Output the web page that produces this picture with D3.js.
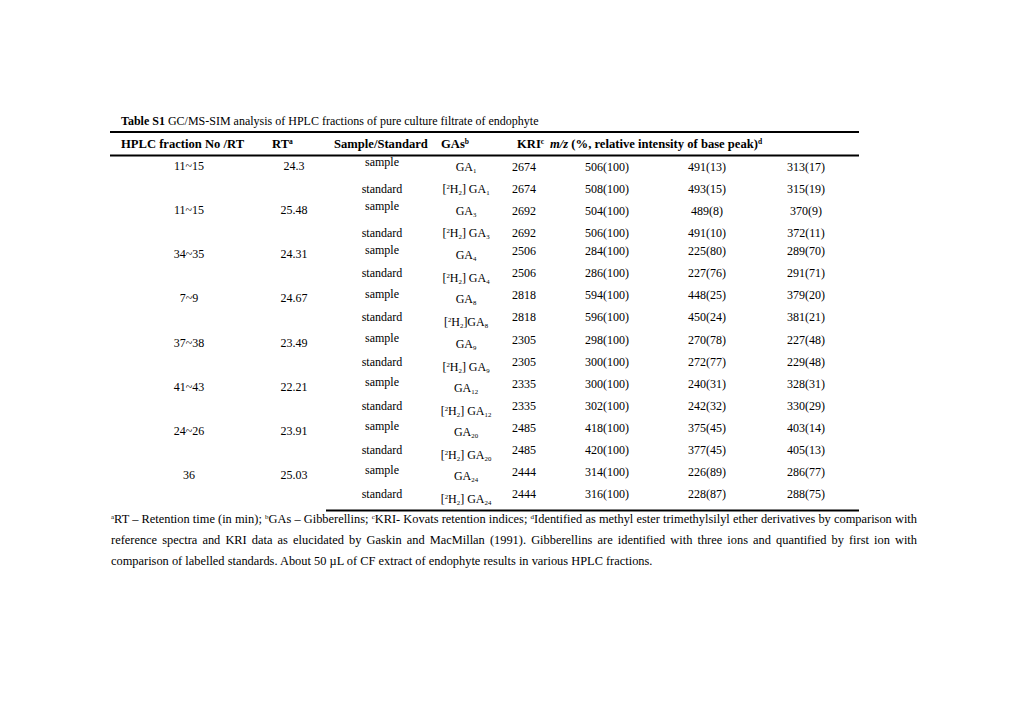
<!DOCTYPE html>
<html><head><meta charset="utf-8">
<script src="https://cdn.jsdelivr.net/npm/d3@7"></script>
<style>
html,body{margin:0;padding:0;background:#fff;}
svg text{font-family:"Liberation Serif","Times New Roman",serif;fill:#000;}
</style></head>
<body><svg id="c" width="1020" height="720"></svg>
<script>
// ---- data ----
const fractions = ["11~15","11~15","34~35","7~9","37~38","41~43","24~26","36"];
const rts = ["24.3","25.48","24.31","24.67","23.49","22.21","23.91","25.03"];
const gaNums = ["1","3","4","8","9","12","20","24"];
const stdSpace = [true,true,true,false,true,true,true,true];
const kri = ["2674","2692","2506","2818","2305","2335","2485","2444"];
const sampleIons = [
  ["506(100)","491(13)","313(17)"],
  ["504(100)","489(8)","370(9)"],
  ["284(100)","225(80)","289(70)"],
  ["594(100)","448(25)","379(20)"],
  ["298(100)","270(78)","227(48)"],
  ["300(100)","240(31)","328(31)"],
  ["418(100)","375(45)","403(14)"],
  ["314(100)","226(89)","286(77)"]
];
const standardIons = [
  ["508(100)","493(15)","315(19)"],
  ["506(100)","491(10)","372(11)"],
  ["286(100)","227(76)","291(71)"],
  ["596(100)","450(24)","381(21)"],
  ["300(100)","272(77)","229(48)"],
  ["302(100)","242(32)","330(29)"],
  ["420(100)","377(45)","405(13)"],
  ["316(100)","228(87)","288(75)"]
];
const titleBold = "Table S1";
const titleRest = " GC/MS-SIM analysis of HPLC fractions of pure culture filtrate of endophyte";
const footLines = [
  [["a",true],["RT – Retention time (in min); ",false],["b",true],["GAs – Gibberellins; ",false],["c",true],["KRI- Kovats retention indices; ",false],["d",true],["Identified as methyl ester trimethylsilyl ether derivatives by comparison with",false]],
  [["reference spectra and KRI data as elucidated by Gaskin and MacMillan (1991). Gibberellins are identified with three ions and quantified by first ion with",false]],
  [["comparison of labelled standards. About 50 µL of CF extract of endophyte results in various HPLC fractions.",false]]
];

// ---- layout ----
const svg = d3.select("#c");
const FS = 12, HFS = 12.6, FFS = 12.4, SUB = 6.8;
const rowIdx = d3.range(16);
const y = d3.scalePoint().domain(rowIdx).range([163, 494]);
const colX = d3.scaleOrdinal()
  .domain(["frac","rt","ss","ga","kri","i1","i2","i3"])
  .range([189, 294, 382, 466, 524, 607, 707, 806]);

// title
const t = svg.append("text").attr("x",121).attr("y",125).attr("font-size",FS);
t.append("tspan").attr("font-weight","bold").text(titleBold);
t.append("tspan").text(titleRest);

// rules
const rules = [[110,859,132,2],[110,859,155.5,2],[326,859,510.5,2]];
svg.selectAll("line.rule").data(rules).join("line").attr("class","rule")
  .attr("x1",d=>d[0]).attr("x2",d=>d[1]).attr("y1",d=>d[2]).attr("y2",d=>d[2])
  .attr("stroke","#000").attr("stroke-width",d=>d[3]);

// header
const hy = 148;
function hdr(x, txt, sup, anchor){
  const e = svg.append("text").attr("x",x).attr("y",hy).attr("font-size",HFS)
    .attr("font-weight","bold").attr("text-anchor",anchor||"start");
  e.append("tspan").text(txt);
  if(sup) e.append("tspan").attr("font-size",7.5).attr("dy",-4.5).text(sup);
  return e;
}
hdr(121,"HPLC fraction No /RT");
hdr(272,"RT","a");
hdr(334,"Sample/Standard");
hdr(441,"GAs","b");
hdr(517,"KRI","c");
{
  const e = svg.append("text").attr("x",550).attr("y",hy).attr("font-size",HFS).attr("font-weight","bold");
  e.append("tspan").attr("font-style","italic").text("m/z");
  e.append("tspan").text(" (%, relative intensity of base peak)");
  e.append("tspan").attr("font-size",7.5).attr("dy",-4.5).text("d");
}

// body
const B = 4; // baseline offset from text centre
const groups = d3.range(fractions.length);
groups.forEach(g => {
  const ys = y(2*g), yt = y(2*g+1);
  const early = g < 2;
  const ysd = early ? yt + 4 : yt;
  svg.append("text").attr("x",colX("frac")).attr("y",ys+3+B).attr("font-size",FS)
    .attr("text-anchor","middle").text(fractions[g]);
  svg.append("text").attr("x",colX("rt")).attr("y",ys+3+B).attr("font-size",FS)
    .attr("text-anchor","middle").text(rts[g]);
  svg.append("text").attr("x",colX("ss")).attr("y",ys-1.5+B).attr("font-size",FS)
    .attr("text-anchor","middle").text("sample");
  svg.append("text").attr("x",colX("ss")).attr("y",ysd+B).attr("font-size",FS)
    .attr("text-anchor","middle").text("standard");
  const gs = svg.append("text").attr("x",colX("ga")).attr("y",ys+4+B).attr("font-size",FS)
    .attr("text-anchor","middle");
  gs.append("tspan").text("GA");
  gs.append("tspan").attr("font-size",SUB).attr("dy",2).text(gaNums[g]);
  const gstdY = early ? ysd + B : yt + 5 + B;
  const gt = svg.append("text").attr("x",colX("ga")).attr("y",gstdY).attr("font-size",FS)
    .attr("text-anchor","middle");
  gt.append("tspan").text("[");
  gt.append("tspan").attr("font-size",SUB).attr("dy",-4).text("2");
  gt.append("tspan").attr("dy",4).text("H");
  gt.append("tspan").attr("font-size",SUB).attr("dy",2).text("2");
  gt.append("tspan").attr("dy",-2).text(stdSpace[g] ? "] GA" : "]GA");
  gt.append("tspan").attr("font-size",SUB).attr("dy",2).text(gaNums[g]);
  const yv = early ? ys + 4 : ys;
  const cells = [["kri",kri[g],yv],["kri",kri[g],ysd],
    ["i1",sampleIons[g][0],yv],["i2",sampleIons[g][1],yv],["i3",sampleIons[g][2],yv],
    ["i1",standardIons[g][0],ysd],["i2",standardIons[g][1],ysd],["i3",standardIons[g][2],ysd]];
  cells.forEach(c => {
    svg.append("text").attr("x",colX(c[0])).attr("y",c[2]+B).attr("font-size",FS)
      .attr("text-anchor","middle").text(c[1]);
  });
});

// footnotes
const footY = [523, 544, 565];
const footRight = 917;
footLines.forEach((parts,i) => {
  const e = svg.append("text").attr("x",111).attr("y",footY[i]).attr("font-size",FFS);
  parts.forEach(p => {
    if(p[1]) e.append("tspan").attr("font-size",7).attr("dy",-4.5).text(p[0]);
    else {
      const prevSup = e.selectAll("tspan").size() > 0;
      e.append("tspan").attr("dy",prevSup ? 4.5 : 0).text(p[0]);
    }
  });
  if(i < footLines.length - 1){
    const w = e.node().getComputedTextLength();
    const txt = parts.map(p=>p[0]).join("");
    const spaces = (txt.match(/ /g)||[]).length;
    if(spaces) e.style("word-spacing", ((footRight-111-w)/spaces) + "px");
  }
});
</script></body></html>
